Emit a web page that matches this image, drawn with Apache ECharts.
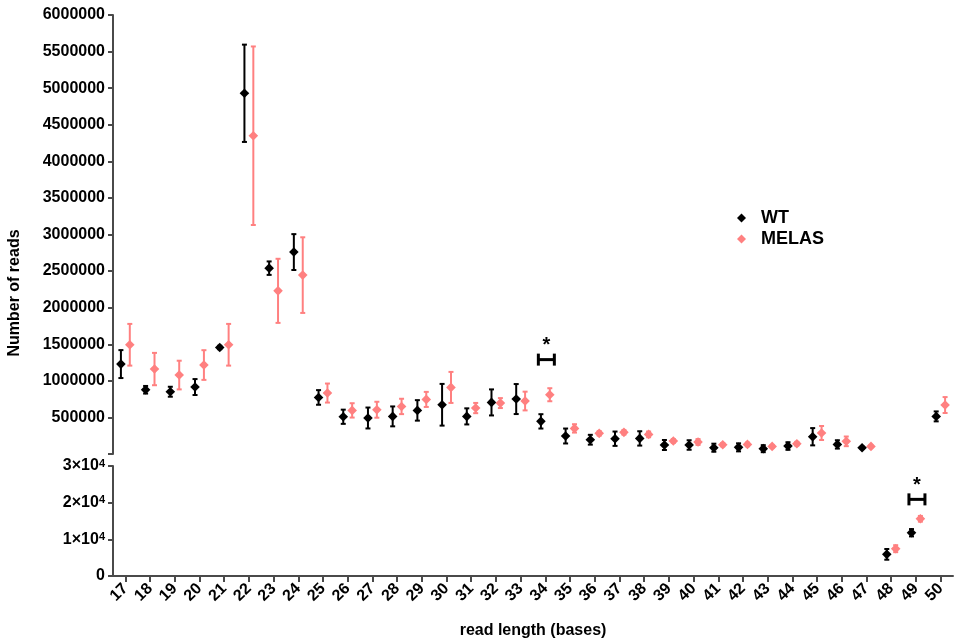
<!DOCTYPE html>
<html>
<head>
<meta charset="utf-8">
<script src="https://cdn.jsdelivr.net/npm/echarts@6/dist/echarts.min.js"></script>
<style>
  html, body { margin: 0; padding: 0; background: #fff; }
  #chart { width: 955px; height: 641px; }
</style>
</head>
<body>
<div id="chart"></div>
<script>
const categories = ['17','18','19','20','21','22','23','24','25','26','27','28','29','30','31','32','33','34','35','36','37','38','39','40','41','42','43','44','45','46','47','48','49','50'];

const wtMean = [1229000, 878000, 851000, 915000, 1456000, 4930000, 2540000, 2760000, 773000, 509000, 492000, 514000, 596000, 673000, 514000, 705000, 751000, 446000, 246000, 195000, 209000, 213000, 123000, 123000, 86000, 91000, 73000, 109000, 236000, 131000, 86000, 5900, 11800, 514000];
const wtErr  = [191000, 52000, 68000, 109000, 23000, 665000, 92000, 245000, 100000, 97000, 143000, 136000, 140000, 285000, 110000, 178000, 205000, 98000, 102000, 67000, 98000, 98000, 68000, 65000, 55000, 55000, 48000, 52000, 118000, 57000, 12000, 1460, 1000, 68000];

const melasMean = [1493000, 1161000, 1079000, 1216000, 1493000, 4350000, 2230000, 2445000, 833000, 596000, 605000, 650000, 746000, 910000, 628000, 696000, 724000, 810000, 350000, 282000, 296000, 268000, 178000, 164000, 127000, 131000, 104000, 141000, 287000, 173000, 104000, 7450, 15600, 669000];
const melasErr  = [285000, 221000, 196000, 203000, 285000, 1220000, 438000, 517000, 130000, 98000, 109000, 105000, 103000, 212000, 70000, 68000, 128000, 89000, 57000, 30000, 30000, 39000, 25000, 40000, 22000, 25000, 18000, 25000, 96000, 66000, 12000, 950, 780, 109000];

// lower (broken) axis holds values below this
const lowerAxisMax = 30000;
const upperTickLabelsHidden = ['0'];
const lowerTickLabels = { 0: '{m|0}', 10000: '{m|1×10}{s|4}', 20000: '{m|2×10}{s|4}', 30000: '{m|3×10}{s|4}' };

// significance marks
const sigCategories = ['34', '49'];
const sigValues = [1290000, 20900];

const WT_COLOR = '#000000';
const MELAS_COLOR = '#FF8080';
const FONT = '"Liberation Sans", Arial, sans-serif';

function buildData(means, errs, lower) {
  const out = [];
  means.forEach((m, i) => {
    const isLower = m < lowerAxisMax;
    if (isLower === lower) out.push([i, m, errs[i]]);
  });
  return out;
}

function makeRender(color, offset) {
  return function (params, api) {
    const i = api.value(0), m = api.value(1), e = api.value(2);
    const c = api.coord([i, m]);
    const band = api.size([1, 0])[0];
    const x = c[0] + offset * band;
    const y = c[1];
    const yT = api.coord([i, m + e])[1];
    const yB = api.coord([i, m - e])[1];
    const st = { stroke: color, lineWidth: 2 };
    const d = 4.8;
    return {
      type: 'group',
      children: [
        { type: 'line', shape: { x1: x, y1: yT, x2: x, y2: yB }, style: st },
        { type: 'line', shape: { x1: x - 2.5, y1: yT, x2: x + 2.5, y2: yT }, style: st },
        { type: 'line', shape: { x1: x - 2.5, y1: yB, x2: x + 2.5, y2: yB }, style: st },
        { type: 'polygon', shape: { points: [[x, y - d], [x + d, y], [x, y + d], [x - d, y]] }, style: { fill: color } }
      ]
    };
  };
}

function sigRender(params, api) {
  const c = api.coord([api.value(0), api.value(1)]);
  const x = c[0] + 1, y = c[1];
  const st = { stroke: '#000', lineWidth: 3 };
  return {
    type: 'group',
    children: [
      { type: 'line', shape: { x1: x - 8, y1: y, x2: x + 8, y2: y }, style: st },
      { type: 'line', shape: { x1: x - 8, y1: y - 6, x2: x - 8, y2: y + 6 }, style: st },
      { type: 'line', shape: { x1: x + 8, y1: y - 6, x2: x + 8, y2: y + 6 }, style: st },
      { type: 'text', x: x, y: y - 14, style: { text: '*', fill: '#000', font: 'bold 20px ' + FONT, align: 'center', verticalAlign: 'middle' } }
    ]
  };
}

const sigUpper = [], sigLower = [];
sigCategories.forEach((c, k) => {
  const idx = categories.indexOf(c);
  if (sigValues[k] < lowerAxisMax) sigLower.push([idx, sigValues[k]]);
  else sigUpper.push([idx, sigValues[k]]);
});

const axisLineStyle = { color: '#4a4a4a', width: 2 };
const labelStyle = { color: '#000', fontWeight: 'bold', fontFamily: FONT, fontSize: 16 };

const chart = echarts.init(document.getElementById('chart'));
chart.setOption({
  backgroundColor: '#fff',
  animation: false,
  grid: [
    { left: 113, right: 2, top: 15, height: 439 },
    { left: 113, right: 2, top: 466, height: 110 }
  ],
  xAxis: [
    { type: 'category', gridIndex: 0, data: categories, show: false },
    {
      type: 'category', gridIndex: 1, data: categories,
      axisLine: { lineStyle: axisLineStyle },
      axisTick: { show: true, length: 6, alignWithLabel: true, lineStyle: { color: '#4a4a4a', width: 2 } },
      axisLabel: { ...labelStyle, fontSize: 16, rotate: 45, margin: 10, interval: 0 }
    }
  ],
  yAxis: [
    {
      type: 'value', gridIndex: 0, min: 0, max: 6000000, interval: 500000,
      splitLine: { show: false },
      axisLine: { show: true, lineStyle: axisLineStyle },
      axisTick: { show: true, length: 5, lineStyle: { color: '#4a4a4a', width: 2 } },
      axisLabel: { ...labelStyle, margin: 8, formatter: v => upperTickLabelsHidden.includes(String(v)) ? '' : String(v) }
    },
    {
      type: 'value', gridIndex: 1, min: 0, max: lowerAxisMax, interval: 10000,
      splitLine: { show: false },
      axisLine: { show: true, lineStyle: axisLineStyle },
      axisTick: { show: true, length: 5, lineStyle: { color: '#4a4a4a', width: 2 } },
      axisLabel: {
        ...labelStyle, margin: 8,
        formatter: v => lowerTickLabels[v] || '',
        rich: {
          m: { fontWeight: 'bold', fontFamily: FONT, fontSize: 16, color: '#000', verticalAlign: 'bottom' },
          s: { fontWeight: 'bold', fontFamily: FONT, fontSize: 11, color: '#000', verticalAlign: 'top', padding: [0, 0, 4, 0] }
        }
      }
    }
  ],
  legend: {
    orient: 'vertical', left: 732, top: 204, itemWidth: 9, itemHeight: 9, itemGap: 3,
    textStyle: { color: '#000', fontWeight: 'bold', fontFamily: FONT, fontSize: 18, padding: [0, 0, 0, 10] },
    data: [
      { name: 'WT', icon: 'diamond', itemStyle: { color: WT_COLOR } },
      { name: 'MELAS', icon: 'diamond', itemStyle: { color: MELAS_COLOR } }
    ]
  },
  graphic: [
    { type: 'text', x: 15, y: 293, rotation: Math.PI / 2, style: { text: 'Number of reads', fill: '#000', font: 'bold 16px ' + FONT, align: 'center', verticalAlign: 'middle' } },
    { type: 'text', x: 533, y: 631, style: { text: 'read length (bases)', fill: '#000', font: 'bold 16px ' + FONT, align: 'center', verticalAlign: 'middle' } }
  ],
  series: [
    { name: 'WT', type: 'custom', xAxisIndex: 0, yAxisIndex: 0, itemStyle: { color: WT_COLOR }, renderItem: makeRender(WT_COLOR, -0.18), data: buildData(wtMean, wtErr, false), encode: { x: 0, y: 1 } },
    { name: 'MELAS', type: 'custom', xAxisIndex: 0, yAxisIndex: 0, itemStyle: { color: MELAS_COLOR }, renderItem: makeRender(MELAS_COLOR, 0.18), data: buildData(melasMean, melasErr, false), encode: { x: 0, y: 1 } },
    { name: 'WT', type: 'custom', xAxisIndex: 1, yAxisIndex: 1, itemStyle: { color: WT_COLOR }, renderItem: makeRender(WT_COLOR, -0.18), data: buildData(wtMean, wtErr, true), encode: { x: 0, y: 1 } },
    { name: 'MELAS', type: 'custom', xAxisIndex: 1, yAxisIndex: 1, itemStyle: { color: MELAS_COLOR }, renderItem: makeRender(MELAS_COLOR, 0.18), data: buildData(melasMean, melasErr, true), encode: { x: 0, y: 1 } },
    { name: 'sig-upper', type: 'custom', xAxisIndex: 0, yAxisIndex: 0, renderItem: sigRender, data: sigUpper, encode: { x: 0, y: 1 } },
    { name: 'sig-lower', type: 'custom', xAxisIndex: 1, yAxisIndex: 1, renderItem: sigRender, data: sigLower, encode: { x: 0, y: 1 } }
  ]
});
</script>
</body>
</html>
